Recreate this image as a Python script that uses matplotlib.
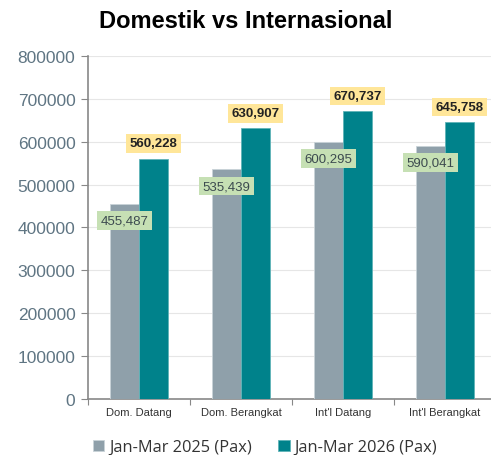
import numpy as np
import matplotlib.pyplot as plt

categories = ["Dom. Datang", "Dom. Berangkat", "Int'l Datang", "Int'l Berangkat"]
pax_2025 = [455487, 535439, 600295, 590041]
pax_2026 = [560228, 630907, 670737, 645758]
series_names = ["Jan-Mar 2025 (Pax)", "Jan-Mar 2026 (Pax)"]

plt.rcParams['font.family'] = ['Liberation Sans', 'DejaVu Sans']

fig = plt.figure(figsize=(4.91, 4.56), dpi=100)
ax = fig.add_axes([0.179, 0.123, 0.831, 0.752])

x = np.arange(len(categories)) + 0.5
w = 0.284
b1 = ax.bar(x - w/2, pax_2025, w, color='#8fa0aa', edgecolor='#c9d3d8', linewidth=0.6,
            label=series_names[0], zorder=3)
b2 = ax.bar(x + w/2, pax_2026, w, color='#00828b', edgecolor='#5fb3b8', linewidth=0.6,
            label=series_names[1], zorder=3)

# value labels
for xi, v in zip(x - w/2, pax_2025):
    ax.annotate(f"{v:,}", (xi, v), xytext=(0, -12), textcoords='offset points',
                ha='center', va='center', fontsize=9.5, color='#3c4a4f',
                bbox=dict(boxstyle='square,pad=0.25', fc='#c6e0b4', ec='none'), zorder=5)
for xi, v in zip(x + w/2, pax_2026):
    ax.annotate(f"{v:,}", (xi, v), xytext=(0, 11), textcoords='offset points',
                ha='center', va='center', fontsize=9.5, fontweight='bold', color='#222222',
                bbox=dict(boxstyle='square,pad=0.25', fc='#ffe699', ec='none'), zorder=5)

ax.set_xlim(0, 4)
ax.set_ylim(0, 800000)
ax.set_yticks(range(0, 800001, 100000))
ax.set_yticklabels([str(t) for t in range(0, 800001, 100000)])
ax.set_xticks(range(5))
ax.set_xticklabels([])
ax.set_xticks(x, minor=True)
ax.set_xticklabels(categories, minor=True)
ax.tick_params(axis='x', which='minor', length=0, labelsize=8, colors='#333333', pad=6)
ax.tick_params(axis='x', which='major', length=4, color='#888888')
ax.tick_params(axis='y', length=5, color='#888888', labelsize=12.5, labelcolor='#5f7583', pad=4)
ax.grid(axis='y', color='#e6e6e6', linewidth=0.8, zorder=0)
for s in ['top', 'right']:
    ax.spines[s].set_visible(False)
for s in ['left', 'bottom']:
    ax.spines[s].set_color('#888888')
    ax.spines[s].set_linewidth(1.2)

fig.suptitle("Domestik vs Internasional", x=0.5, y=0.978, fontsize=17, fontweight='bold')
fig.legend(handles=[b1, b2], loc='center', bbox_to_anchor=(0.54, 0.017), ncol=2, frameon=False,
           prop={'family': 'Open Sans', 'size': 11.8}, handlelength=0.7, handleheight=0.7,
           handletextpad=0.3, columnspacing=1.6, labelcolor='#333333')

fig.savefig("out.png", dpi=100)
